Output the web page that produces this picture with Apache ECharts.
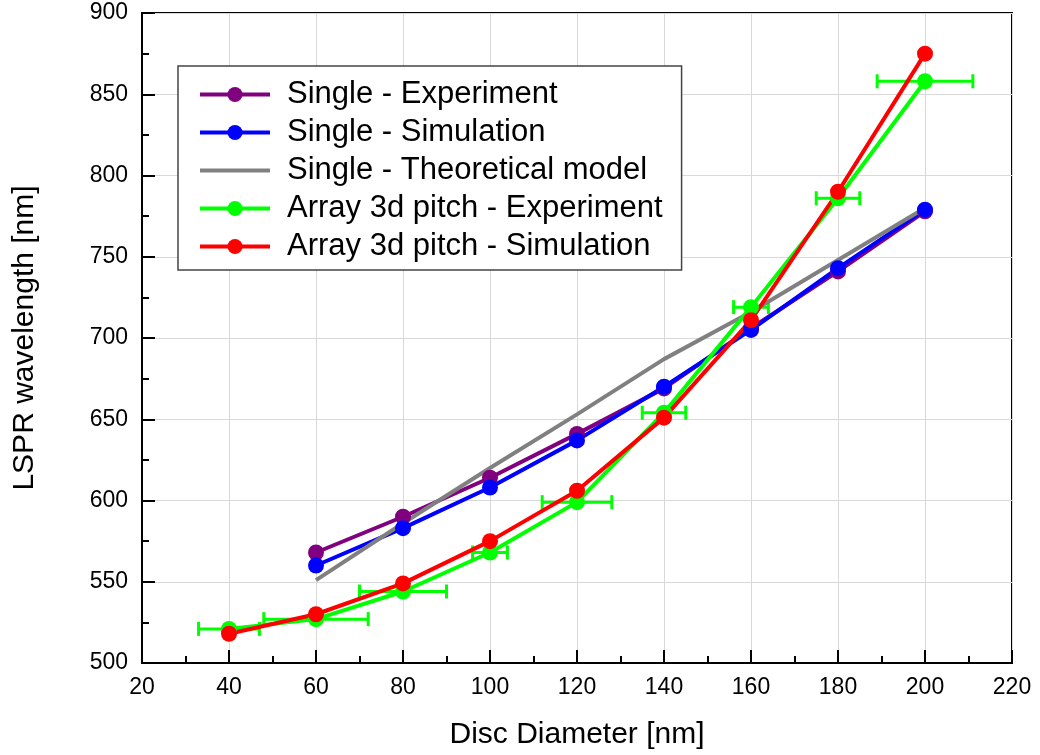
<!DOCTYPE html>
<html>
<head>
<meta charset="utf-8">
<script src="https://cdn.jsdelivr.net/npm/echarts@6/dist/echarts.min.js"></script>
<style>
  html, body { margin: 0; padding: 0; background: #fff; }
  #chart { width: 1040px; height: 755px; }
</style>
</head>
<body>
<div id="chart"></div>
<script>
// Datos
const diamSingle = [60, 80, 100, 120, 140, 160, 180, 200];
const diamArray = [40, 60, 80, 100, 120, 140, 160, 180, 200];

const singleExp = [568, 590, 614, 641, 669, 706, 741, 778];
const singleSim = [560, 583, 608, 637, 670, 705, 743, 779];
const singleTheory = [551, 586, 620, 653, 687, 716, 748, 780];
const arrayExp = [521, 527, 544, 568, 599, 654, 719, 786, 858];
const arraySim = [518, 530, 549, 575, 606, 651, 711, 790, 875];
const arrayExpErr = [7, 12, 10, 4, 8, 5, 4, 5, 11];

const names = [
    'Single - Experiment',
    'Single - Simulation',
    'Single - Theoretical model',
    'Array 3d pitch - Experiment',
    'Array 3d pitch - Simulation'
];

const fuente = "'Liberation Sans', Arial, sans-serif";

function pares(xs, ys) {
    return xs.map((x, i) => [x, ys[i]]);
}

function serieLinea(nombre, color, xs, ys, conSimbolo) {
    return {
        name: nombre,
        type: 'line',
        data: pares(xs, ys),
        symbol: conSimbolo ? 'circle' : 'none',
        showSymbol: conSimbolo,
        symbolSize: 16,
        lineStyle: { color: color, width: 4 },
        itemStyle: { color: color },
        emphasis: { disabled: true },
        animation: false
    };
}

let chartDom = document.getElementById('chart');
let myChart = echarts.init(chartDom);

let option = {
    backgroundColor: '#fff',
    animation: false,
    grid: {
        left: 142,
        right: 28,
        top: 13,
        bottom: 92,
        show: true,
        borderColor: '#000',
        borderWidth: 2,
        backgroundColor: 'transparent'
    },
    legend: {
        data: names.map((n, i) => i === 2 ? { name: n, itemStyle: { opacity: 0 } } : { name: n }),
        orient: 'vertical',
        left: 178,
        top: 66,
        backgroundColor: '#fff',
        borderColor: '#444',
        borderWidth: 1.5,
        borderRadius: 0,
        padding: [13, 19, 8, 20],
        itemGap: 7,
        itemWidth: 70,
        itemHeight: 19,
        selectedMode: false,
        lineStyle: { width: 4 },
        textStyle: {
            fontSize: 31,
            fontFamily: fuente,
            color: '#000',
            lineHeight: 30,
            padding: [0, 0, 0, 12]
        }
    },
    xAxis: {
        type: 'value',
        min: 20,
        max: 220,
        interval: 20,
        name: 'Disc Diameter [nm]',
        nameLocation: 'middle',
        nameGap: 57,
        nameTextStyle: { fontSize: 30, fontFamily: fuente, color: '#000' },
        axisLine: { show: true, lineStyle: { color: '#000', width: 2 } },
        axisTick: { show: true, inside: true, length: 13, lineStyle: { color: '#000', width: 2 } },
        minorTick: { show: true, splitNumber: 2, length: 7, lineStyle: { color: '#000', width: 2 } },
        axisLabel: { fontSize: 23, fontFamily: fuente, color: '#000', margin: 13 },
        splitLine: { show: true, lineStyle: { color: '#d9d9d9', width: 1 } }
    },
    yAxis: {
        type: 'value',
        min: 500,
        max: 900,
        interval: 50,
        name: 'LSPR wavelength [nm]',
        nameLocation: 'middle',
        nameRotate: 90,
        nameGap: 102,
        nameTextStyle: { fontSize: 30, fontFamily: fuente, color: '#000' },
        axisLine: { show: true, lineStyle: { color: '#000', width: 2 } },
        axisTick: { show: true, inside: true, length: 13, lineStyle: { color: '#000', width: 2 } },
        minorTick: { show: true, splitNumber: 2, length: 7, lineStyle: { color: '#000', width: 2 } },
        axisLabel: { fontSize: 23, fontFamily: fuente, color: '#000', margin: 14 },
        splitLine: { show: true, lineStyle: { color: '#d9d9d9', width: 1 } }
    },
    series: [
        serieLinea(names[0], '#800080', diamSingle, singleExp, true),
        serieLinea(names[1], '#0000ff', diamSingle, singleSim, true),
        serieLinea(names[2], '#808080', diamSingle, singleTheory, false),
        serieLinea(names[3], '#00ff00', diamArray, arrayExp, true),
        {
            // barras de error en x
            name: 'errores',
            type: 'custom',
            data: diamArray.map((x, i) => [x, arrayExp[i], arrayExpErr[i]]),
            encode: { x: 0, y: 1 },
            silent: true,
            animation: false,
            renderItem: function (params, api) {
                let x = api.value(0);
                let y = api.value(1);
                let e = api.value(2);
                let p1 = api.coord([x - e, y]);
                let p2 = api.coord([x + e, y]);
                let h = 7;
                let estilo = { stroke: '#00ff00', lineWidth: 3 };
                return {
                    type: 'group',
                    children: [
                        { type: 'line', shape: { x1: p1[0], y1: p1[1], x2: p2[0], y2: p2[1] }, style: estilo },
                        { type: 'line', shape: { x1: p1[0], y1: p1[1] - h, x2: p1[0], y2: p1[1] + h }, style: estilo },
                        { type: 'line', shape: { x1: p2[0], y1: p2[1] - h, x2: p2[0], y2: p2[1] + h }, style: estilo }
                    ]
                };
            }
        },
        serieLinea(names[4], '#ff0000', diamArray, arraySim, true)
    ]
};

option && myChart.setOption(option);
</script>
</body>
</html>
